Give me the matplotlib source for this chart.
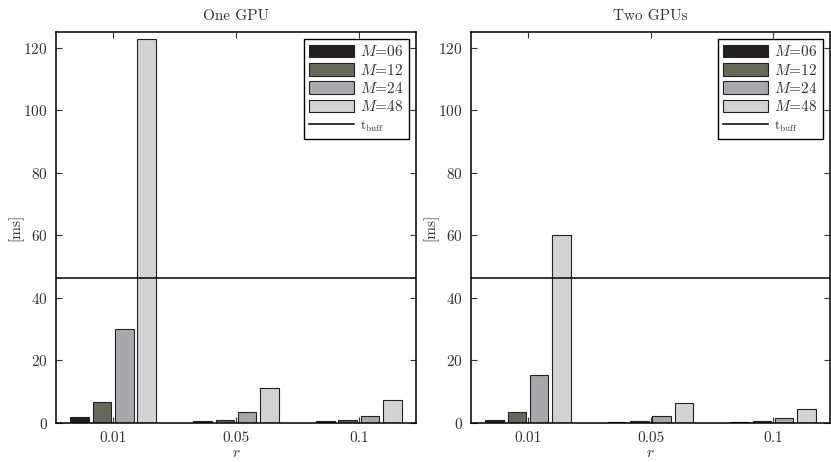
import matplotlib
matplotlib.use('Agg')
import matplotlib.pyplot as plt
import numpy as np

plt.rcParams['font.family'] = ['cmr10', 'DejaVu Serif']
plt.rcParams['mathtext.fontset'] = 'cm'
plt.rcParams['axes.formatter.use_mathtext'] = True

fs = 11

r_labels = ['0.01', '0.05', '0.1']
series = ['$M$=06', '$M$=12', '$M$=24', '$M$=48']
colors = ['#231f20', '#666958', '#a7a8ac', '#d2d3d5']

one_gpu = [
    [1.9, 0.5, 0.6],     # M=06
    [6.6, 1.1, 0.9],     # M=12
    [30.2, 3.4, 2.3],    # M=24
    [122.7, 11.2, 7.5],  # M=48
]
two_gpus = [
    [1.1, 0.3, 0.3],
    [3.5, 0.6, 0.5],
    [15.5, 2.2, 1.6],
    [60.1, 6.4, 4.6],
]
t_buff = 46.5

fig = plt.figure(figsize=(8.31, 4.62), dpi=100)
ax1 = fig.add_axes([56 / 831, 39 / 462, 360 / 831, 391 / 462])
ax2 = fig.add_axes([471 / 831, 39 / 462, 359 / 831, 391 / 462])

x = np.arange(1, len(r_labels) + 1)
offsets = [-0.2728, -0.0909, 0.0909, 0.2728]
width = 0.15

for ax, data, title in [(ax1, one_gpu, 'One GPU'), (ax2, two_gpus, 'Two GPUs')]:
    handles = []
    for i in range(len(series)):
        b = ax.bar(x + offsets[i], data[i], width, color=colors[i], edgecolor='#222222',
                   linewidth=0.8, label=series[i], zorder=2)
        handles.append(b)
    ln = ax.axhline(t_buff, color='black', linewidth=1.1,
                    label=r'$\mathrm{t_{buff}}$', zorder=3)
    handles.append(ln)
    ax.set_xlim(0.535, 3.465)
    ax.set_ylim(0, 125)
    ax.set_xticks(x)
    ax.set_xticklabels(r_labels)
    ax.set_yticks([0, 20, 40, 60, 80, 100, 120])
    ax.tick_params(direction='in', top=True, right=True, length=4, width=0.8,
                   labelsize=fs, colors='#333333', labelcolor='#333333', pad=6)
    ax.set_title(title, fontsize=fs, color='#333333', pad=9)
    ax.set_xlabel('$r$', fontsize=fs, color='#333333', labelpad=1)
    ax.set_ylabel('[ms]', fontsize=fs, color='#333333', labelpad=0)
    for s in ax.spines.values():
        s.set_linewidth(1.1)
        s.set_zorder(4)
    leg = ax.legend(handles=handles, loc='upper right', fancybox=False, edgecolor='black',
                    framealpha=1, handlelength=2.95, handleheight=0.92, labelspacing=0.22,
                    borderpad=0.35, handletextpad=0.4, borderaxespad=0.45,
                    fontsize=fs)
    leg.get_frame().set_linewidth(1.0)
    for t in leg.get_texts():
        t.set_color('#333333')
    leg.get_texts()[-1].set_fontsize(9.5)

fig.savefig('out.png', dpi=100)
